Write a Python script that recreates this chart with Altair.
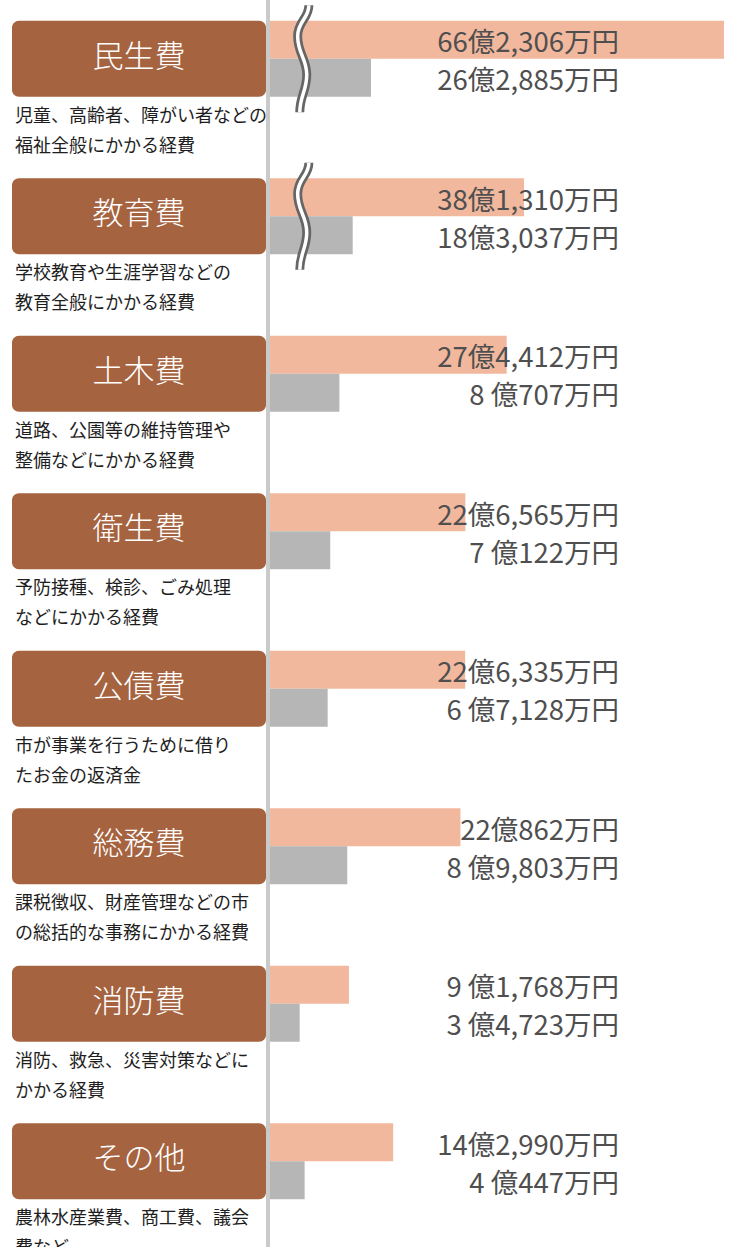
import altair as alt
import pandas as pd

# ---------------- data ----------------
categories = ["民生費", "教育費", "土木費", "衛生費", "公債費", "総務費", "消防費", "その他"]
desc_line1 = ["児童、高齢者、障がい者などの", "学校教育や生涯学習などの", "道路、公園等の維持管理や",
              "予防接種、検診、ごみ処理", "市が事業を行うために借り", "課税徴収、財産管理などの市",
              "消防、救急、災害対策などに", "農林水産業費、商工費、議会"]
desc_line2 = ["福祉全般にかかる経費", "教育全般にかかる経費", "整備などにかかる経費",
              "などにかかる経費", "たお金の返済金", "の総括的な事務にかかる経費",
              "かかる経費", "費など"]
series = ["総額", "一般財源"]
# values in 億円
total_oku = [66.2306, 38.1310, 27.4412, 22.6565, 22.6335, 22.0862, 9.1768, 14.2990]
general_oku = [26.2885, 18.3037, 8.0707, 7.0122, 6.7128, 8.9803, 3.4723, 4.0447]
total_labels = ["66億2,306万円", "38億1,310万円", "27億4,412万円", "22億6,565万円",
                "22億6,335万円", "22億862万円", "9 億1,768万円", "14億2,990万円"]
general_labels = ["26億2,885万円", "18億3,037万円", "8 億707万円", "7 億122万円",
                  "6 億7,128万円", "8 億9,803万円", "3 億4,723万円", "4 億447万円"]
# bars drawn shortened on the broken axis (length, 億円 units)
broken_cats = ["民生費", "教育費"]
broken_total_drawn = [52.6, 29.45]
broken_general_drawn = [11.73, 9.61]

# ---------------- tables ----------------
rows = []
for i, c in enumerate(categories):
    for s, vals in zip(series, [total_oku, general_oku]):
        v = vals[i]
        drawn = v
        if c in broken_cats:
            j = broken_cats.index(c)
            drawn = broken_total_drawn[j] if s == series[0] else broken_general_drawn[j]
        rows.append({"cat": c, "series": s, "value": v, "drawn": drawn})
bars_df = pd.DataFrame(rows)

cat_df = pd.DataFrame({"cat": categories, "d1": desc_line1, "d2": desc_line2,
                       "l1": total_labels, "l2": general_labels})
brk_df = pd.DataFrame({"cat": broken_cats})

# ---------------- styles ----------------
W, H = 737, 1247
FONT = "Noto Sans CJK JP"
BOX = "#a5633f"
SALMON = "#f1b89e"
GRAY = "#b5b6b5"
LINE = "#c9caca"
VTXT = "#4f4f4f"
DTXT = "#1e1e1e"

step, band, top = 157.5, 76.0, 20.7
pi = 1 - band / step
po = (H / step - len(categories) + pi) / 2
align = top / (H - step * (len(categories) - pi))
yscale = alt.Scale(domain=categories, paddingInner=pi, paddingOuter=po, align=align, round=False)
px_per_oku = 8.636
x0 = 269.7
xscale = alt.Scale(domain=[0, 60], range=[x0, x0 + 60 * px_per_oku], nice=False, zero=True)

Y = alt.Y("cat:N", scale=yscale, axis=None, sort=categories)
Yend = alt.Y("cat:N", scale=yscale, axis=None, sort=categories, bandPosition=1)

boxes = alt.Chart(cat_df).mark_rect(color=BOX, cornerRadius=7).encode(
    x=alt.value(12), x2=alt.value(266), y=Y)

box_text = alt.Chart(cat_df).mark_text(
    color="white", font=FONT, fontSize=31, fontWeight=300, align="center",
    baseline="middle", dy=-1).encode(x=alt.value(139), y=Y, text="cat:N")

desc1 = alt.Chart(cat_df).mark_text(
    color=DTXT, font=FONT, fontSize=18, align="left", baseline="middle", dy=20
).encode(x=alt.value(15), y=Yend, text="d1:N")
desc2 = alt.Chart(cat_df).mark_text(
    color=DTXT, font=FONT, fontSize=18, align="left", baseline="middle", dy=50
).encode(x=alt.value(15), y=Yend, text="d2:N")

bars = alt.Chart(bars_df).mark_bar().encode(
    x=alt.X("drawn:Q", scale=xscale, axis=None),
    y=Y,
    yOffset=alt.YOffset("series:N", sort=series,
                        scale=alt.Scale(domain=series, paddingInner=0, paddingOuter=0)),
    color=alt.Color("series:N", scale=alt.Scale(domain=series, range=[SALMON, GRAY]), legend=None),
)

wave = "M0.11,-1 C0.11,-0.75 -0.1,-0.7 -0.1,-0.42 C-0.1,-0.1 0.07,0 0.07,0.3 C0.07,0.6 -0.06,0.7 -0.06,1"
brk_outer = alt.Chart(brk_df).mark_point(
    shape=wave, size=11449, filled=False, stroke="#666666", strokeWidth=9, opacity=1
).encode(x=alt.value(303), y=Y)
brk_inner = alt.Chart(brk_df).mark_point(
    shape=wave, size=11449, filled=False, stroke="white", strokeWidth=3.5, opacity=1
).encode(x=alt.value(303), y=Y)

axis_line = alt.Chart(cat_df).mark_rule(color=LINE, strokeWidth=3).encode(
    x=alt.value(268), y=alt.value(0), y2=alt.value(H))

lab1 = alt.Chart(cat_df).mark_text(
    color=VTXT, font=FONT, fontSize=27.5, align="right", baseline="middle", dy=-19 + 4.5
).encode(x=alt.value(619), y=Y, text="l1:N")
lab2 = alt.Chart(cat_df).mark_text(
    color=VTXT, font=FONT, fontSize=27.5, align="right", baseline="middle", dy=19 + 4.5
).encode(x=alt.value(619), y=Y, text="l2:N")

chart = alt.layer(
    boxes, bars, brk_outer, brk_inner, axis_line, box_text, desc1, desc2, lab1, lab2
).properties(
    width=W, height=H, autosize=alt.AutoSizeParams(type="none"), padding=0
).configure_view(stroke=None)

chart.save("out.html", embed_options={"renderer": "svg", "actions": False})
